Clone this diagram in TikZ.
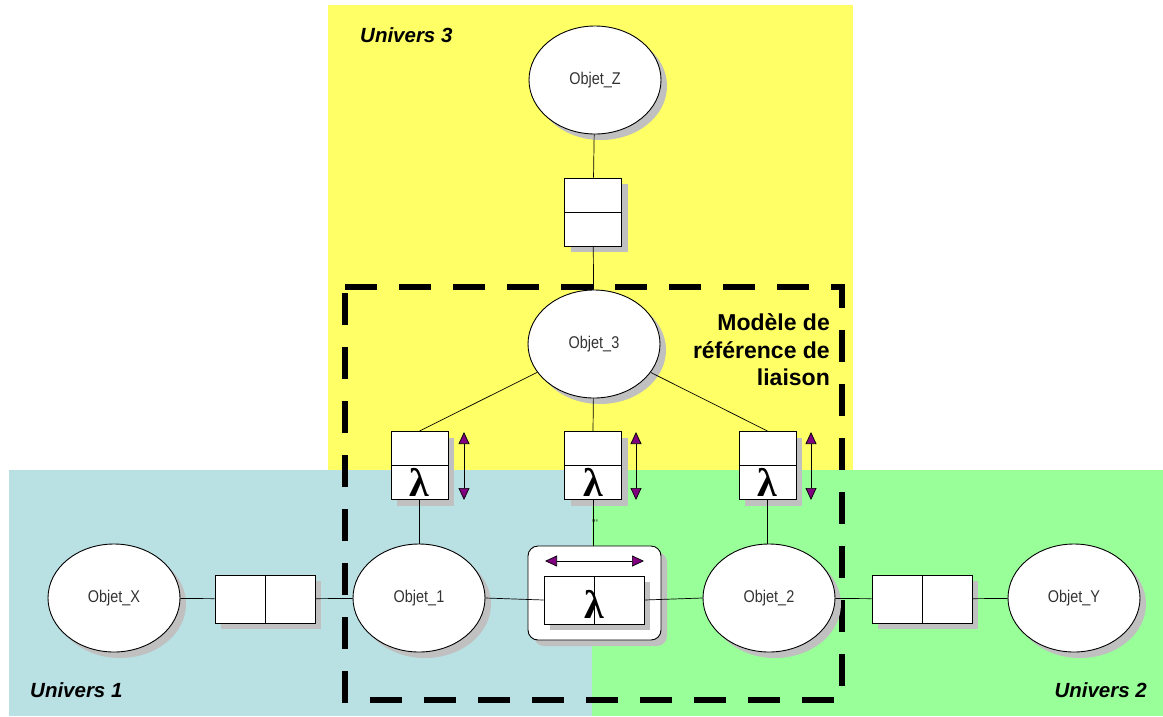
\documentclass[tikz,border=0pt]{standalone}
\usepackage{fontspec}
\setsansfont{Liberation Sans}
\newfontfamily\narrowfont[FakeStretch=0.85]{Liberation Sans}
\newfontfamily\lamfont{Liberation Serif}
\usetikzlibrary{shadows,arrows.meta,shapes.geometric}
\definecolor{uyellow}{RGB}{255,255,102}
\definecolor{uteal}{RGB}{185,224,227}
\definecolor{ugreen}{RGB}{153,255,153}
\definecolor{shadowgray}{RGB}{192,192,192}
\definecolor{tippurple}{RGB}{128,0,128}
\definecolor{objtext}{RGB}{51,51,51}
\tikzset{
  shad/.style={drop shadow={shadow xshift=6pt,shadow yshift=-6pt,fill=shadowgray,opacity=1}},
  objet/.style={ellipse,draw,fill=white,line width=0.9pt,minimum width=132pt,minimum height=108pt,inner sep=0pt,shad,
    font=\narrowfont\fontsize{17}{19}\selectfont,text=objtext},
  vbox/.style={rectangle,draw,fill=white,line width=0.9pt,minimum width=57pt,minimum height=68pt,inner sep=0pt,shad},
  hbox/.style={rectangle,draw,fill=white,line width=0.9pt,minimum width=100pt,minimum height=48pt,inner sep=0pt,shad},
  outerbox/.style={rectangle,rounded corners=10pt,draw,fill=white,line width=0.9pt,minimum width=133pt,minimum height=94pt,inner sep=0pt,shad},
  lam/.style={font=\lamfont\bfseries\fontsize{40}{42}\selectfont,inner sep=0pt},
  conn/.style={line width=0.7pt},
  parrow/.style={line width=0.7pt,{Triangle[length=12pt,width=11pt,fill=tippurple]}-{Triangle[length=12pt,width=11pt,fill=tippurple]}},
  univ/.style={font=\sffamily\bfseries\itshape\fontsize{20.5}{24}\selectfont,inner sep=0pt},
}
\begin{document}
\begin{tikzpicture}[x=1pt,y=-1pt]
\useasboundingbox (0,0) rectangle (1163,716);
% universes
\fill[uyellow] (328,5) rectangle (853,470);
\fill[uteal] (9,470) rectangle (592,716);
\fill[ugreen] (592,470) rectangle (1163,716);
% dashed reference model frame
\draw[line width=6.5pt,dash pattern=on 32pt off 22pt] (345,287) -- (842,287) -- (842,700) -- (345,700) -- cycle;
% labels
\node[univ,anchor=west] (u3) at (360,35) {Univers 3};
\node[univ,anchor=west] (u1) at (30,690) {Univers 1};
\node[univ,anchor=east] (u2) at (1147,690) {Univers 2};
\node[font=\sffamily\bfseries\fontsize{23}{27.5}\selectfont,align=right,anchor=east,inner sep=0pt] (mref) at (830,350) {Modèle de\\référence de\\liaison};
% objects
\node[objet] (oz) at (595,80) {Objet\_Z};
\node[objet] (o3) at (594,344) {Objet\_3};
\node[objet] (ox) at (114,598) {Objet\_X};
\node[objet] (o1) at (419,598) {Objet\_1};
\node[objet] (o2) at (769,598) {Objet\_2};
\node[objet] (oy) at (1074,598) {Objet\_Y};
% boxes
\node[vbox] (bz) at (593,212) {};
\draw[line width=0.9pt] (bz.west) -- (bz.east);
\node[vbox] (bl) at (419.5,465.5) {};
\draw[line width=0.9pt] (bl.west) -- (bl.east);
\node[lam] (ll) at ([yshift=-17pt]bl.center) {λ};
\node[vbox] (bm) at (593,465.5) {};
\draw[line width=0.9pt] (bm.west) -- (bm.east);
\node[lam] (lm) at ([yshift=-17pt]bm.center) {λ};
\node[vbox] (br) at (767.5,465.5) {};
\draw[line width=0.9pt] (br.west) -- (br.east);
\node[lam] (lr) at ([yshift=-17pt]br.center) {λ};
\node[hbox] (bx) at (265,599) {};
\draw[line width=0.9pt] (bx.north) -- (bx.south);
\node[hbox] (by) at (922,599) {};
\draw[line width=0.9pt] (by.north) -- (by.south);
\node[outerbox] (ob) at (594.5,593) {};
\node[hbox] (bc) at (594,600) {};
\draw[line width=0.9pt] (bc.north) -- (bc.south);
\node[lam] (lc) at (594,604) {λ};
% purple arrows
\coordinate (a1s) at (464,432); \coordinate (a1e) at (464,500);
\coordinate (a2s) at (636,432); \coordinate (a2e) at (636,500);
\coordinate (a3s) at (811,432); \coordinate (a3e) at (811,500);
\coordinate (a4s) at (545,561); \coordinate (a4e) at (644,561);
\draw[parrow] (a1s) -- (a1e);
\draw[parrow] (a2s) -- (a2e);
\draw[parrow] (a3s) -- (a3e);
\draw[parrow] (a4s) -- (a4e);
% small mark
\node[font=\sffamily\bfseries\fontsize{8}{8}\selectfont,inner sep=0pt,text=objtext] (mk) at (595,523) {\char"0027\char"0027\char"0027};
% connectors
\draw[conn] (oz) -- (bz);
\draw[conn] (bz) -- (o3);
\draw[conn] (o3) -- (bl.north);
\draw[conn] (o3) -- (bm.north);
\draw[conn] (o3) -- (br.north);
\draw[conn] (bl.south) -- (bl.south |- o1.north);
\draw[conn] (bm.south) -- (ob.north -| bm.south);
\draw[conn] (br.south) -- (br.south |- o2.north);
\draw[conn] (ox) -- (bx);
\draw[conn] (bx) -- (o1);
\draw[conn] (o1.east) -- (bc.west);
\draw[conn] (bc.east) -- (o2.west);
\draw[conn] (o2) -- (by);
\draw[conn] (by) -- (oy);
\end{tikzpicture}
\end{document}
